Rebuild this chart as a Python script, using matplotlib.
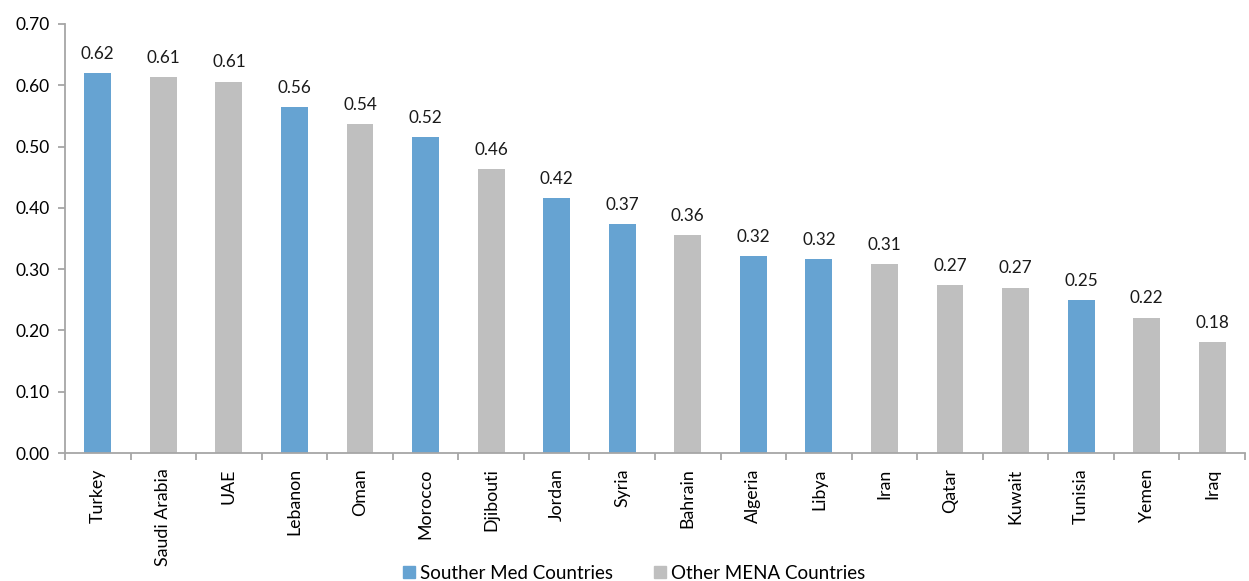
import matplotlib.pyplot as plt
import numpy as np

# values
countries = ["Turkey", "Saudi Arabia", "UAE", "Lebanon", "Oman", "Morocco",
             "Djibouti", "Jordan", "Syria", "Bahrain", "Algeria", "Libya",
             "Iran", "Qatar", "Kuwait", "Tunisia", "Yemen", "Iraq"]
values = [0.620, 0.613, 0.606, 0.564, 0.537, 0.516,
          0.463, 0.416, 0.374, 0.356, 0.321, 0.316,
          0.309, 0.274, 0.270, 0.249, 0.221, 0.181]
southern_med = [True, False, False, True, False, True,
                False, True, True, False, True, True,
                False, False, False, True, False, False]

blue = "#66A3D2"
grey = "#BFBFBF"
axis_grey = "#A6A6A6"

plt.rcParams['font.family'] = ['Lato', 'DejaVu Sans']

fig = plt.figure(figsize=(12.49, 5.81), dpi=100)
ax = fig.add_axes([65 / 1249, (581 - 453) / 581, 1180 / 1249, (453 - 24) / 581])

x = np.arange(len(countries))
colors = [blue if s else grey for s in southern_med]
bars = ax.bar(x, values, width=0.41, color=colors, zorder=2)

for xi, v in zip(x, values):
    ax.annotate(f"{v:.2f}", (xi, v), xytext=(0, 8), textcoords="offset points",
                ha="center", va="bottom", fontsize=12.3, color="#1a1a1a")

ax.set_xlim(-0.5, len(countries) - 0.5)
ax.set_ylim(0, 0.70)
ax.set_yticks(np.arange(0, 0.71, 0.10))
ax.set_yticklabels([f"{t:.2f}" for t in np.arange(0, 0.71, 0.10)], fontsize=12.5)

ax.set_xticks(x)
ax.set_xticklabels(countries, rotation=90, fontsize=12.8)
ax.set_xticks(np.arange(-0.5, len(countries), 1), minor=True)
ax.tick_params(axis="x", which="major", length=0, pad=11)
ax.tick_params(axis="x", which="minor", length=5, color=axis_grey, width=1.3)
ax.tick_params(axis="y", length=5, color=axis_grey, width=1.3, pad=6)

for side in ["top", "right"]:
    ax.spines[side].set_visible(False)
for side in ["left", "bottom"]:
    ax.spines[side].set_color(axis_grey)
    ax.spines[side].set_linewidth(1.3)

handles = [plt.Rectangle((0, 0), 1, 1, color=blue),
           plt.Rectangle((0, 0), 1, 1, color=grey)]
fig.legend(handles, ["Souther Med Countries", "Other MENA Countries"],
           loc="lower center", bbox_to_anchor=(0.508, -0.03), ncol=2,
           frameon=False, fontsize=13.5, handlelength=0.6, handleheight=0.6,
           handletextpad=0.3, columnspacing=2.2)

fig.savefig("out.png", dpi=100)
